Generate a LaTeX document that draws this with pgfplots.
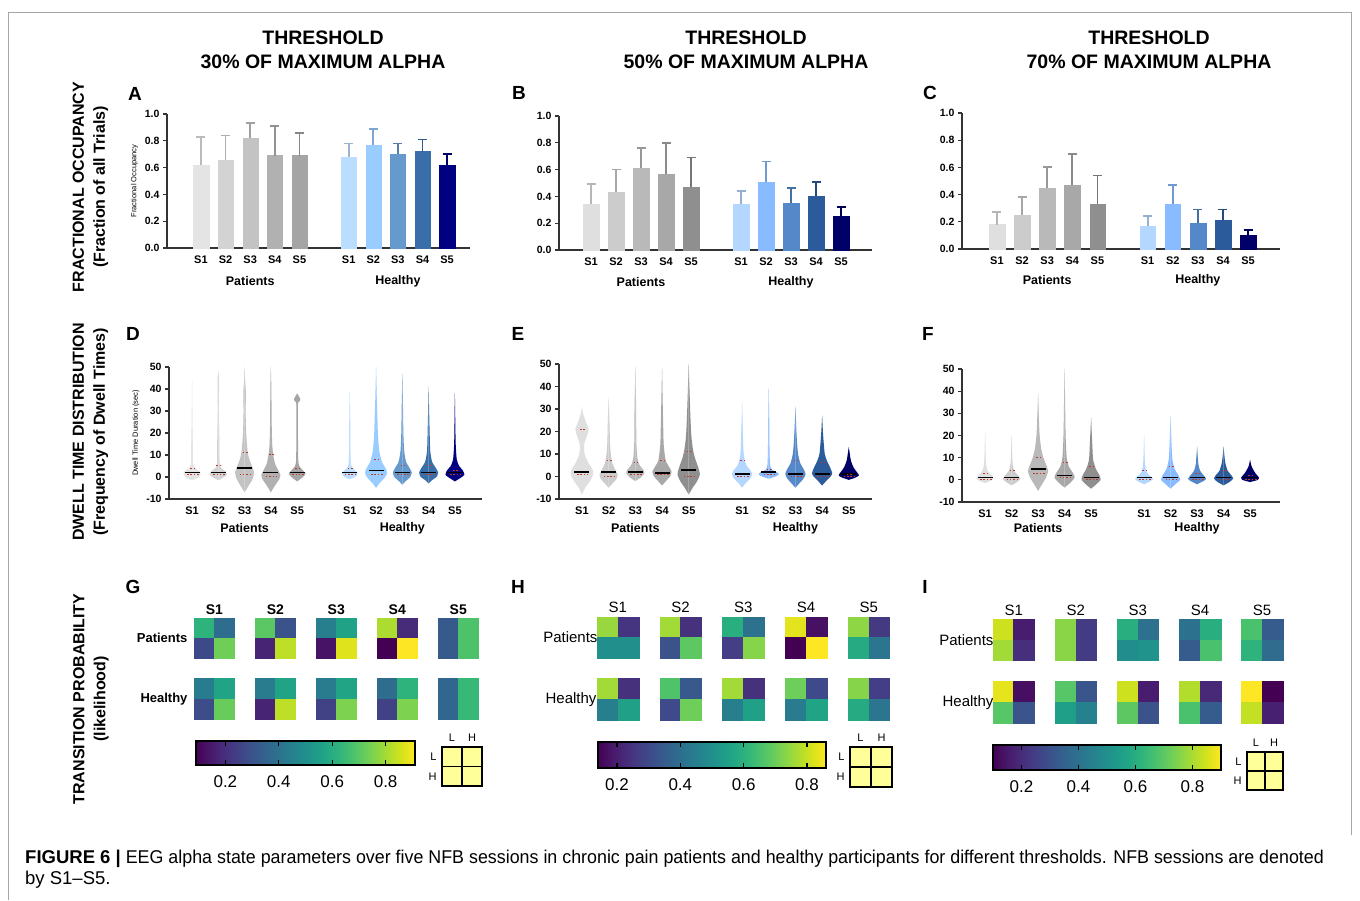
\documentclass[border=0pt]{standalone}
\usepackage{fontspec}
\setmainfont{Liberation Sans}
\setsansfont{Liberation Sans}
\usepackage{pgfplots}
\usepackage{pgfplotstable}
\pgfplotsset{compat=1.18}
\usepgfplotslibrary{colormaps}
\pgfkeys{/pgf/number format/assume math mode=true}

\definecolor{pa1}{HTML}{E4E4E4}\definecolor{pa2}{HTML}{D3D3D3}\definecolor{pa3}{HTML}{C3C3C3}\definecolor{pa4}{HTML}{B1B1B1}\definecolor{pa5}{HTML}{A5A5A5}
\definecolor{pb1}{HTML}{DFDFDF}\definecolor{pb2}{HTML}{CCCCCC}\definecolor{pb3}{HTML}{B9B9B9}\definecolor{pb4}{HTML}{A8A8A8}\definecolor{pb5}{HTML}{8F8F8F}
\definecolor{ha1}{HTML}{BBDDFF}\definecolor{ha2}{HTML}{99CCFF}\definecolor{ha3}{HTML}{6699CC}\definecolor{ha4}{HTML}{3A6EA8}\definecolor{ha5}{HTML}{000080}
\definecolor{hb1}{HTML}{B3D7FF}\definecolor{hb2}{HTML}{88BBFF}\definecolor{hb3}{HTML}{5588C8}\definecolor{hb4}{HTML}{2C5B9B}\definecolor{hb5}{HTML}{000066}
\definecolor{lyel}{HTML}{FFFF99}
\definecolor{qred}{HTML}{C0392B}

\newcommand\fs[1]{\fontsize{#1}{#1}\selectfont}

% bar with upward SD error bar: x, mean, sd, colour
\newcommand\bb[4]{\addplot[ybar, bar width=0.62, bar shift=0pt, fill=#4, draw=#4, line width=0.1pt,
  error bars/.cd, y dir=plus, y explicit,
  error bar style={draw=#4!82!black, line width=1.8pt},
  error mark options={draw=#4!82!black, line width=1.8pt, mark size=4.5pt, rotate=90}]
  coordinates {(#1,#2) +- (0,#3)};}

% violin: position, colour, outline (y, half width)
\newcommand\vio[3]{%
  \addplot[fill=#2, draw=none, smooth, tension=0.4] table[row sep=\\, x expr={#1+\thisrow{w}}, y=y] {y w\\ #3};
  \addplot[fill=#2, draw=none, smooth, tension=0.4] table[row sep=\\, x expr={#1-\thisrow{w}}, y=y] {y w\\ #3};}

\tikzset{grp/.style={font=\bfseries\fs{12.5}}}
\pgfplotsset{
 gp/.style={scale only axis, clip=false, anchor=south west,
   axis x line*=bottom, axis y line*=left,
   axis line style={line width=1.3pt, black!80, -},
   tick style={line width=1.3pt, black!80},
   tick align=outside, major tick length=4pt,
   major x tick style={draw=none},
   xtick={1,2,3,4,5,7,8,9,10,11},
   xticklabels={S1,S2,S3,S4,S5,S1,S2,S3,S4,S5},
   ticklabel style={font=\bfseries\fs{10.5}},
   xticklabel style={font=\bfseries\fs{11}}},
 barax/.style={gp, ymin=0, ymax=1, ytick={0,0.2,0.4,0.6,0.8,1},
   yticklabel style={/pgf/number format/.cd, fixed, fixed zerofill, precision=1}},
 vioax/.style={gp, ymin=-10, ymax=50, ytick={-10,0,10,20,30,40,50}},
 med/.style={only marks, mark=-, mark size=7.5pt, mark options={line width=1.6pt, black}},
 qlo/.style={only marks, mark=-, mark size=6.5pt, mark options={line width=1pt, qred, dash pattern=on 1.5pt off 1.8pt}},
 qhi/.style={only marks, mark=-, mark size=3pt, mark options={line width=1pt, qred, dash pattern=on 1.5pt off 1.8pt}},
 hm/.style={scale only axis, anchor=south west, hide axis, clip=false,
   xmin=-0.5, xmax=13.5, ymin=-0.5, ymax=4.5, colormap name=viridis},
 cb/.style={scale only axis, anchor=south west, ymin=0, ymax=1, ytick=\empty,
   xtick={0.2,0.4,0.6,0.8}, tick align=inside, xtick pos=both, xticklabel pos=left,
   major tick length=5pt, tick style={black, line width=1.2pt},
   axis line style={black, line width=1.6pt}, axis on top, colormap name=viridis,
   xticklabel style={font=\fs{17}, yshift=-7pt, /pgf/number format/.cd, fixed, precision=1}},
}

% transition probability matrices: columns 3i,3i+1 = session i; rows 4,3 = Patients; 1,0 = Healthy
\pgfplotstableread{
x y c
0 4 0.62
1 4 0.38
0 3 0.27
1 3 0.73
3 4 0.70
4 4 0.30
3 3 0.17
4 3 0.83
6 4 0.44
7 4 0.56
6 3 0.13
7 3 0.87
9 4 0.81
10 4 0.19
9 3 0.09
10 3 0.91
12 4 0.32
13 4 0.68
12 3 0.32
13 3 0.68
0 1 0.43
1 1 0.57
0 0 0.28
1 0 0.72
3 1 0.43
4 1 0.57
3 0 0.17
4 0 0.83
6 1 0.43
7 1 0.57
6 0 0.25
7 0 0.75
9 1 0.38
10 1 0.62
9 0 0.25
10 0 0.75
12 1 0.36
13 1 0.64
12 0 0.36
13 0 0.64
}\tabG
\pgfplotstableread{
x y c
0 4 0.75
1 4 0.25
0 3 0.50
1 3 0.50
3 4 0.76
4 4 0.24
3 3 0.32
4 3 0.68
6 4 0.59
7 4 0.41
6 3 0.27
7 3 0.73
9 4 0.83
10 4 0.17
9 3 0.14
10 3 0.86
12 4 0.74
13 4 0.26
12 3 0.58
13 3 0.42
0 1 0.76
1 1 0.24
0 0 0.45
1 0 0.55
3 1 0.66
4 1 0.34
3 0 0.30
4 0 0.70
6 1 0.76
7 1 0.24
6 0 0.45
7 0 0.55
9 1 0.70
10 1 0.30
9 0 0.44
10 0 0.56
12 1 0.73
13 1 0.27
12 0 0.58
13 0 0.42
}\tabH
\pgfplotstableread{
x y c
0 4 0.84
1 4 0.16
0 3 0.79
1 3 0.21
3 4 0.76
4 4 0.24
3 3 0.76
4 3 0.24
6 4 0.60
7 4 0.40
6 3 0.49
7 3 0.51
9 4 0.40
10 4 0.60
9 3 0.33
10 3 0.67
12 4 0.67
13 4 0.33
12 3 0.62
13 3 0.38
0 1 0.87
1 1 0.13
0 0 0.69
1 0 0.31
3 1 0.69
4 1 0.31
3 0 0.55
4 0 0.45
6 1 0.84
7 1 0.16
6 0 0.70
7 0 0.30
9 1 0.81
10 1 0.19
9 0 0.67
10 0 0.33
12 1 0.90
13 1 0.10
12 0 0.83
13 0 0.17
}\tabI

\begin{document}
\begin{tikzpicture}[x=1pt,y=1pt]
\useasboundingbox (0,0) rectangle (1360,900);
\fill[white] (0,0) rectangle (1360,900);
\draw[black!35, line width=0.8pt] (8,0) -- (8,888) -- (1351,888) -- (1351,65);

% column titles
\foreach \cx/\pc in {323/30, 746/50, 1149/70}{
  \node[anchor=base, font=\bfseries\fs{19.5}] at (\cx,855) {THRESHOLD};
  \node[anchor=base, font=\bfseries\fs{19.5}] at (\cx,831) {\pc\% OF MAXIMUM ALPHA};
}
% row titles
\node[rotate=90, align=center, font=\bfseries\fontsize{16}{21}\selectfont] at (90.5,713) {FRACTIONAL OCCUPANCY\\(Fraction of all Trials)};
\node[rotate=90, align=center, font=\bfseries\fontsize{16}{21}\selectfont] at (90.5,468) {DWELL TIME DISTRIBUTION\\(Frequency of Dwell Times)};
\node[rotate=90, align=center, font=\bfseries\fontsize{16}{21}\selectfont] at (91,201) {TRANSITION PROBABILITY\\(likelihood)};
% panel letters
\foreach \lx/\ly/\lt in {135/806/A, 519/807/B, 930/807/C, 133/566/D, 518/566/E, 928/566/F, 133/313/G, 518/313/H, 925/313/I}{
  \node[font=\bfseries\fs{19}] at (\lx,\ly) {\lt};
}

% ---------- A ----------
\begin{axis}[barax, at={(167pt,652pt)}, width=303pt, height=134pt, xmin=-0.38, xmax=11.93,
  ylabel={Fractional Occupancy}, ylabel style={font=\fs{7.5}}]
\bb{1}{0.62}{0.21}{pa1}\bb{2}{0.66}{0.18}{pa2}\bb{3}{0.82}{0.11}{pa3}\bb{4}{0.69}{0.22}{pa4}\bb{5}{0.69}{0.17}{pa5}
\bb{7}{0.68}{0.10}{ha1}\bb{8}{0.77}{0.12}{ha2}\bb{9}{0.70}{0.08}{ha3}\bb{10}{0.72}{0.09}{ha4}\bb{11}{0.62}{0.08}{ha5}
\node[grp, yshift=-33pt] at (axis cs:3,0) {Patients};
\node[grp, yshift=-33pt] at (axis cs:9,0) {Healthy};
\end{axis}
% ---------- B ----------
\begin{axis}[barax, at={(559pt,650pt)}, width=313pt, height=134pt, xmin=-0.28, xmax=12.24]
\bb{1}{0.34}{0.15}{pb1}\bb{2}{0.43}{0.17}{pb2}\bb{3}{0.61}{0.15}{pb3}\bb{4}{0.57}{0.23}{pb4}\bb{5}{0.47}{0.22}{pb5}
\bb{7}{0.34}{0.10}{hb1}\bb{8}{0.51}{0.15}{hb2}\bb{9}{0.35}{0.11}{hb3}\bb{10}{0.40}{0.11}{hb4}\bb{11}{0.25}{0.07}{hb5}
\node[grp, yshift=-32pt] at (axis cs:3,0) {Patients};
\node[grp, yshift=-32pt] at (axis cs:9,0) {Healthy};
\end{axis}
% ---------- C ----------
\begin{axis}[barax, at={(962pt,651pt)}, width=318pt, height=136pt, xmin=-0.39, xmax=12.27]
\bb{1}{0.18}{0.09}{pb1}\bb{2}{0.25}{0.13}{pb2}\bb{3}{0.45}{0.15}{pb3}\bb{4}{0.47}{0.23}{pb4}\bb{5}{0.33}{0.21}{pb5}
\bb{7}{0.17}{0.07}{hb1}\bb{8}{0.33}{0.14}{hb2}\bb{9}{0.19}{0.10}{hb3}\bb{10}{0.21}{0.08}{hb4}\bb{11}{0.10}{0.04}{hb5}
\node[grp, yshift=-31pt] at (axis cs:3,0) {Patients};
\node[grp, yshift=-31pt] at (axis cs:9,0) {Healthy};
\end{axis}

% ---------- D ----------
\begin{axis}[vioax, at={(169pt,401pt)}, width=313pt, height=132pt, xmin=0.125, xmax=12.03,
  ylabel={Dwell Time Duration (sec)}, ylabel style={font=\fs{7.5}}]
\vio{1}{pa1}{-1.5 0\\ -0.5 0.2\\ 1 0.32\\ 2.5 0.3\\ 4 0.12\\ 6 0.04\\ 15 0.03\\ 25 0.015\\ 44 0\\}
\vio{2}{pa2}{-1.5 0\\ 0 0.22\\ 1 0.32\\ 2.5 0.28\\ 4 0.12\\ 6 0.05\\ 17 0.04\\ 30 0.02\\ 44 0.03\\ 48 0\\}
\vio{3}{pa3}{-7 0\\ -4 0.15\\ -1 0.3\\ 2 0.36\\ 5 0.28\\ 8 0.18\\ 12 0.11\\ 20 0.06\\ 30 0.04\\ 38 0.05\\ 44 0.02\\ 50 0\\}
\vio{4}{pa4}{-7 0\\ -4 0.15\\ -1 0.32\\ 1 0.36\\ 3 0.28\\ 6 0.16\\ 10 0.09\\ 15 0.05\\ 25 0.03\\ 40 0.02\\ 50 0\\}
\vio{5}{pa5}{-2 0\\ 0 0.22\\ 1.5 0.32\\ 3 0.22\\ 5 0.08\\ 8 0.04\\ 20 0.03\\ 33 0.03\\ 34.5 0.1\\ 35.5 0.12\\ 37 0.05\\ 38 0\\}
\vio{7}{ha1}{-1 0\\ 0 0.2\\ 1.5 0.3\\ 3 0.2\\ 5 0.06\\ 10 0.03\\ 25 0.02\\ 39 0\\}
\vio{8}{ha2}{-5 0\\ -3 0.12\\ 0 0.35\\ 2 0.42\\ 4 0.36\\ 7 0.22\\ 12 0.12\\ 20 0.07\\ 28 0.05\\ 35 0.03\\ 50 0\\}
\vio{9}{ha3}{-3.5 0\\ -2 0.12\\ 0 0.3\\ 2 0.36\\ 4 0.28\\ 7 0.14\\ 12 0.07\\ 20 0.04\\ 35 0.02\\ 47 0\\}
\vio{10}{ha4}{-3 0\\ -1.5 0.12\\ 0 0.3\\ 2 0.36\\ 4 0.28\\ 7 0.13\\ 12 0.06\\ 20 0.04\\ 30 0.02\\ 41 0\\}
\vio{11}{ha5}{-2 0\\ -0.5 0.2\\ 1 0.36\\ 3 0.3\\ 5 0.16\\ 8 0.07\\ 15 0.03\\ 25 0.015\\ 38 0\\}
\addplot[med] coordinates {(1,2)(2,2)(3,4)(4,2)(5,2)(7,2)(8,3)(9,2)(10,2)(11,2)};
\addplot[qlo] coordinates {(1,1)(2,1)(3,1)(4,0)(5,1)(7,1)(8,1)(9,1)(10,1)(11,1)};
\addplot[qhi] coordinates {(1,4)(2,5)(3,11)(4,10)(5,4)(7,4)(8,8)(9,5)(10,5)(11,3)};
\node[grp, yshift=-29pt] at (axis cs:3,-10) {Patients};
\node[grp, yshift=-29pt] at (axis cs:9,-10) {Healthy};
\end{axis}
% ---------- E ----------
\begin{axis}[vioax, at={(559pt,401pt)}, width=313pt, height=135pt, xmin=0.14, xmax=11.87]
\vio{1}{pb1}{-8 0\\ -5 0.12\\ -2 0.3\\ 1 0.42\\ 3 0.4\\ 6 0.24\\ 10 0.1\\ 14 0.08\\ 18 0.18\\ 21 0.25\\ 24 0.15\\ 28 0.04\\ 31 0\\}
\vio{2}{pb2}{-5 0\\ -3 0.15\\ -1 0.3\\ 1 0.34\\ 3 0.25\\ 6 0.14\\ 10 0.08\\ 15 0.05\\ 25 0.03\\ 35 0\\}
\vio{3}{pb3}{-2 0\\ -0.5 0.2\\ 1.5 0.34\\ 3 0.3\\ 5 0.16\\ 8 0.08\\ 15 0.04\\ 30 0.03\\ 49 0\\}
\vio{4}{pb4}{-4 0\\ -2 0.15\\ 0 0.3\\ 2 0.36\\ 4 0.28\\ 7 0.14\\ 12 0.08\\ 15 0.06\\ 25 0.04\\ 48 0\\}
\vio{5}{pb5}{-8 0\\ -5 0.15\\ -2 0.32\\ 1 0.42\\ 4 0.36\\ 8 0.24\\ 12 0.16\\ 18 0.1\\ 25 0.07\\ 35 0.04\\ 50 0\\}
\vio{7}{hb1}{-5 0\\ -3 0.13\\ -1 0.3\\ 1 0.38\\ 3 0.3\\ 5 0.16\\ 9 0.07\\ 15 0.04\\ 33 0\\}
\vio{8}{hb2}{-1 0\\ 0 0.25\\ 1 0.38\\ 2 0.3\\ 3 0.12\\ 5 0.05\\ 12 0.03\\ 25 0.02\\ 39 0\\}
\vio{9}{hb3}{-5 0\\ -3 0.15\\ -1 0.3\\ 1 0.38\\ 3 0.32\\ 6 0.18\\ 10 0.1\\ 15 0.06\\ 22 0.03\\ 31 0\\}
\vio{10}{hb4}{-4 0\\ -2 0.15\\ 0 0.32\\ 1.5 0.38\\ 4 0.3\\ 7 0.18\\ 10 0.1\\ 15 0.06\\ 20 0.03\\ 27 0\\}
\vio{11}{hb5}{-1.5 0\\ -0.5 0.25\\ 0.5 0.38\\ 2 0.3\\ 4 0.18\\ 7 0.08\\ 10 0.04\\ 13 0\\}
\addplot[med] coordinates {(1,2)(2,2)(3,2)(4,1.5)(5,3)(7,1)(8,2)(9,1)(10,1)(11,1)};
\addplot[qlo] coordinates {(1,1)(2,0)(3,1)(4,1)(5,0)(7,0)(8,1)(9,0)(10,0)(11,0)};
\addplot[qhi] coordinates {(1,21)(2,7)(3,6)(4,7)(5,11)(7,7)(8,3)(9,7)(10,6)(11,1)};
\node[grp, yshift=-29pt] at (axis cs:3,-10) {Patients};
\node[grp, yshift=-29pt] at (axis cs:9,-10) {Healthy};
\end{axis}
% ---------- F ----------
\begin{axis}[vioax, at={(962pt,398pt)}, width=318pt, height=133pt, xmin=0.13, xmax=12.13]
\vio{1}{pb1}{-1.5 0\\ -0.5 0.2\\ 0.5 0.32\\ 2 0.26\\ 4 0.1\\ 7 0.04\\ 12 0.02\\ 22 0\\}
\vio{2}{pb2}{-2.5 0\\ -1 0.2\\ 0.5 0.33\\ 2 0.25\\ 4 0.1\\ 7 0.04\\ 12 0.02\\ 20 0\\}
\vio{3}{pb3}{-5 0\\ -2 0.15\\ 1 0.3\\ 4 0.38\\ 7 0.3\\ 10 0.2\\ 14 0.12\\ 20 0.06\\ 28 0.03\\ 39 0\\}
\vio{4}{pb4}{-3.5 0\\ -1.5 0.2\\ 1 0.38\\ 3 0.32\\ 6 0.16\\ 10 0.08\\ 20 0.04\\ 35 0.02\\ 50 0\\}
\vio{5}{pb5}{-4 0\\ -2 0.2\\ 0 0.36\\ 2 0.32\\ 5 0.18\\ 9 0.08\\ 15 0.05\\ 28 0\\}
\vio{7}{hb1}{-2 0\\ -0.5 0.25\\ 0.5 0.34\\ 2 0.2\\ 4 0.08\\ 8 0.03\\ 20 0\\}
\vio{8}{hb2}{-4 0\\ -2 0.18\\ 0 0.36\\ 2 0.3\\ 5 0.15\\ 9 0.07\\ 15 0.04\\ 29 0\\}
\vio{9}{hb3}{-2 0\\ -0.5 0.25\\ 0.5 0.34\\ 2 0.25\\ 4 0.12\\ 7 0.05\\ 15 0\\}
\vio{10}{hb4}{-2.5 0\\ -1 0.22\\ 0.5 0.36\\ 2 0.3\\ 4 0.16\\ 8 0.06\\ 15 0\\}
\vio{11}{hb5}{-1 0\\ 0 0.3\\ 1 0.34\\ 3 0.2\\ 6 0.06\\ 9 0\\}
\addplot[med] coordinates {(1,1)(2,1)(3,5)(4,2)(5,1)(7,1)(8,1)(9,1)(10,1)(11,1)};
\addplot[qlo] coordinates {(1,0)(2,0)(3,3)(4,1)(5,0)(7,0)(8,0)(9,0)(10,0)(11,0)};
\addplot[qhi] coordinates {(1,3)(2,4)(3,10)(4,8)(5,6)(7,4)(8,6)(9,3)(10,4)(11,2)};
\node[grp, yshift=-26pt] at (axis cs:3,-10) {Patients};
\node[grp, yshift=-26pt] at (axis cs:9,-10) {Healthy};
\end{axis}

% ---------- G ----------
\begin{axis}[hm, at={(194pt,181pt)}, width=284.6pt, height=101pt,
  point meta min=0.09, point meta max=0.91]
\addplot[scatter, only marks, mark=square*, mark size=10.17pt, point meta=explicit,
  scatter/use mapped color={draw=mapped color, fill=mapped color}] table[x=x, y=y, meta=c] {\tabG};
\foreach \i/\s in {0.5/S1, 3.5/S2, 6.5/S3, 9.5/S4, 12.5/S5}{
  \edef\tmp{\noexpand\node[anchor=south, font=\noexpand\bfseries\noexpand\fs{14}] at (axis cs:\i,4.5) {\s};}\tmp}
\node[anchor=east, font=\bfseries\fs{13}, xshift=-3pt] at (axis cs:-0.5,3.5) {Patients};
\node[anchor=east, font=\bfseries\fs{13}, xshift=-3pt] at (axis cs:-0.5,0.5) {Healthy};
\end{axis}
\begin{axis}[cb, at={(196pt,135pt)}, width=219pt, height=24pt, xmin=0.09, xmax=0.91,
  point meta min=0.09, point meta max=0.91]
\addplot[surf, shader=interp, point meta=x, mesh/cols=2] coordinates {(0.09,0) (0.91,0) (0.09,1) (0.91,1)};
\end{axis}
% ---------- H ----------
\begin{axis}[hm, at={(597pt,180pt)}, width=292.6pt, height=103pt,
  point meta min=0.14, point meta max=0.86]
\addplot[scatter, only marks, mark=square*, mark size=10.45pt, point meta=explicit,
  scatter/use mapped color={draw=mapped color, fill=mapped color}] table[x=x, y=y, meta=c] {\tabH};
\foreach \i/\s in {0.5/S1, 3.5/S2, 6.5/S3, 9.5/S4, 12.5/S5}{
  \edef\tmp{\noexpand\node[anchor=south, font=\noexpand\fs{15}, yshift=1pt] at (axis cs:\i,4.5) {\s};}\tmp}
\node[anchor=east, font=\fs{15}, xshift=4pt] at (axis cs:-0.5,3.5) {Patients};
\node[anchor=east, font=\fs{15}, xshift=3pt] at (axis cs:-0.5,0.5) {Healthy};
\end{axis}
\begin{axis}[cb, at={(598pt,132pt)}, width=228pt, height=26pt, xmin=0.14, xmax=0.86,
  point meta min=0.14, point meta max=0.86]
\addplot[surf, shader=interp, point meta=x, mesh/cols=2] coordinates {(0.14,0) (0.86,0) (0.14,1) (0.86,1)};
\end{axis}
% ---------- I ----------
\begin{axis}[hm, at={(993pt,177pt)}, width=289.8pt, height=104pt,
  point meta min=0.10, point meta max=0.90]
\addplot[scatter, only marks, mark=square*, mark size=10.37pt, point meta=explicit,
  scatter/use mapped color={draw=mapped color, fill=mapped color}] table[x=x, y=y, meta=c] {\tabI};
\foreach \i/\s in {0.5/S1, 3.5/S2, 6.5/S3, 9.5/S4, 12.5/S5}{
  \edef\tmp{\noexpand\node[anchor=south, font=\noexpand\fs{15}] at (axis cs:\i,4.5) {\s};}\tmp}
\node[anchor=east, font=\fs{15}, xshift=4pt] at (axis cs:-0.5,3.5) {Patients};
\node[anchor=east, font=\fs{15}, xshift=4pt] at (axis cs:-0.5,0.5) {Healthy};
\end{axis}
\begin{axis}[cb, at={(993pt,130pt)}, width=228pt, height=25pt, xmin=0.10, xmax=0.90,
  point meta min=0.10, point meta max=0.90]
\addplot[surf, shader=interp, point meta=x, mesh/cols=2] coordinates {(0.10,0) (0.90,0) (0.10,1) (0.90,1)};
\end{axis}

% L/H key squares
\foreach \xa/\xb/\ya/\yb in {442/482/114/153, 850/892/113/153, 1247/1283/110/148}{
  \fill[lyel] (\xa,\ya) rectangle (\xb,\yb);
  \draw[line width=1.5pt] ({(\xa+\xb)/2},\ya) -- ({(\xa+\xb)/2},\yb) (\xa,{(\ya+\yb)/2}) -- (\xb,{(\ya+\yb)/2});
  \draw[line width=1.8pt] (\xa,\ya) rectangle (\xb,\yb);
  \node[font=\fs{11}, anchor=south] at ({\xa+(\xb-\xa)/4},\yb+2) {L};
  \node[font=\fs{11}, anchor=south] at ({\xa+3*(\xb-\xa)/4},\yb+2) {H};
  \node[font=\fs{11}, anchor=east] at (\xa-2,{\ya+3*(\yb-\ya)/4}) {L};
  \node[font=\fs{11}, anchor=east] at (\xa-2,{\ya+(\yb-\ya)/4}) {H};
}

% caption
\node[anchor=base west, inner sep=0pt] at (25,37) {\fs{18.5}\textbf{FIGURE 6 |}\hspace{5pt}\scalebox{0.965}[1]{EEG alpha state parameters over five NFB sessions in chronic pain patients and healthy participants for different thresholds. NFB sessions are denoted}};
\node[anchor=base west, font=\fs{18.5}, inner sep=0pt] at (25,16) {by S1\textendash S5.};
\end{tikzpicture}
\end{document}
